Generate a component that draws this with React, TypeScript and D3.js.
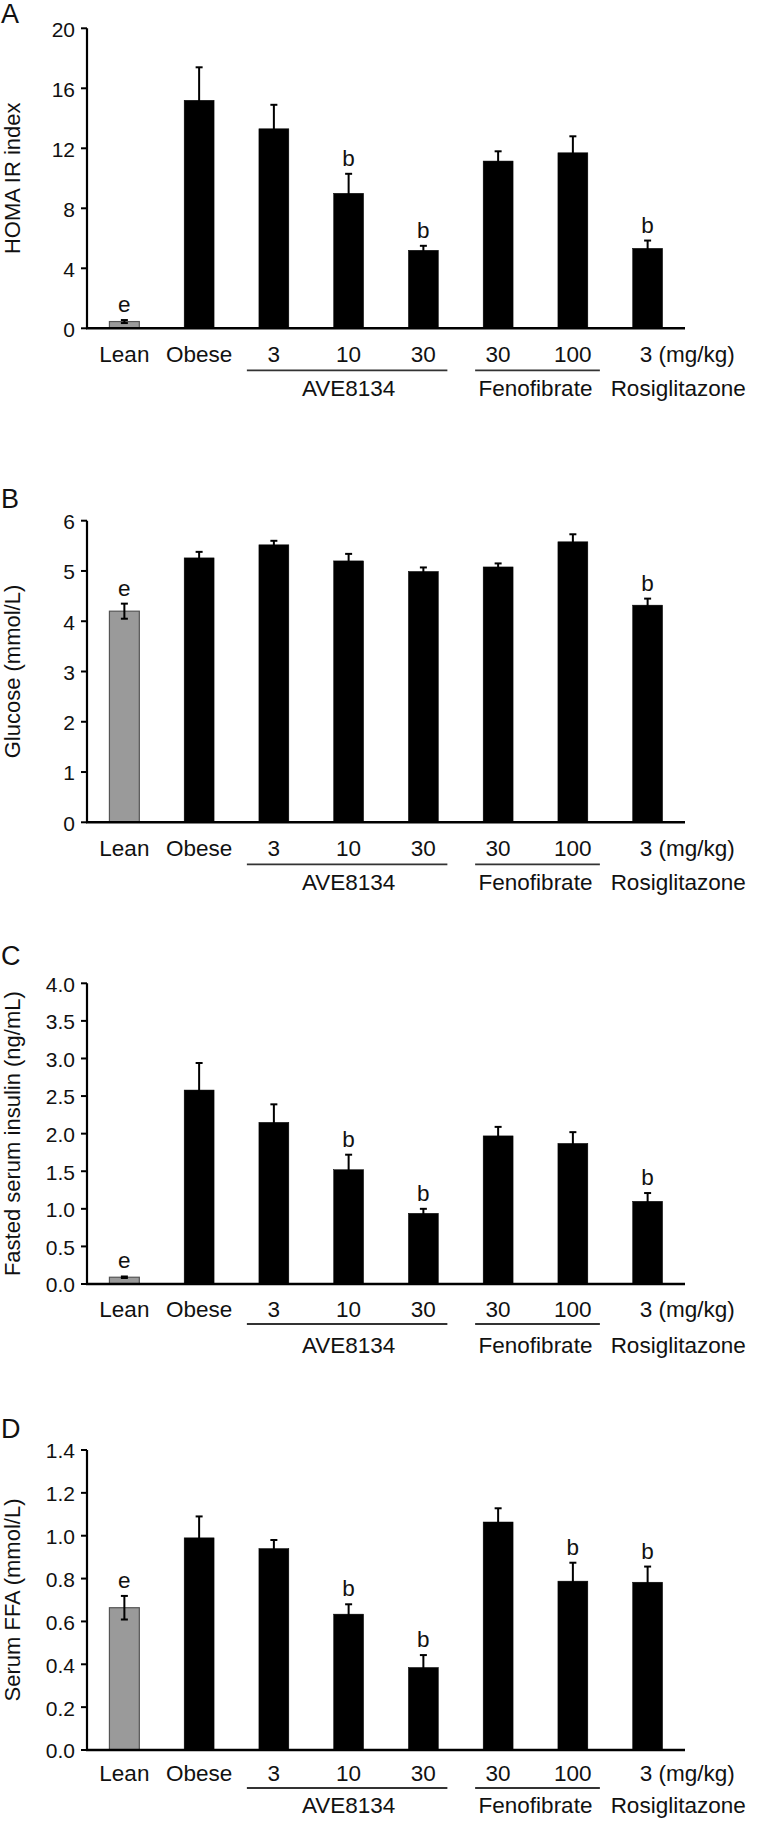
import React from "react";
import * as d3 from "d3";

// ---------- data ----------
const categories = ["Lean", "Obese", "3", "10", "30", "30", "100", "3"];
const groupNames = ["AVE8134", "Fenofibrate", "Rosiglitazone"];

const homaMean = [0.45, 15.2, 13.3, 9.0, 5.2, 11.15, 11.7, 5.33];
const homaErr = [0.1, 2.2, 1.6, 1.3, 0.3, 0.65, 1.1, 0.52];
const homaSig = ["e", "", "", "b", "b", "", "", "b"];
const homaTicks = [0, 4, 8, 12, 16, 20];

const glucoseMean = [4.2, 5.26, 5.52, 5.2, 4.99, 5.08, 5.58, 4.32];
const glucoseErr = [0.15, 0.12, 0.08, 0.14, 0.08, 0.07, 0.15, 0.13];
const glucoseSig = ["e", "", "", "", "", "", "", "b"];
const glucoseTicks = [0, 1, 2, 3, 4, 5, 6];

const insulinMean = [0.09, 2.58, 2.15, 1.52, 0.94, 1.97, 1.87, 1.1];
const insulinErr = [0.01, 0.36, 0.24, 0.2, 0.06, 0.12, 0.15, 0.11];
const insulinSig = ["e", "", "", "b", "b", "", "", "b"];
const insulinTicks = [0, 0.5, 1.0, 1.5, 2.0, 2.5, 3.0, 3.5, 4.0];

const ffaMean = [0.664, 0.99, 0.94, 0.634, 0.385, 1.064, 0.788, 0.783];
const ffaErr = [0.055, 0.1, 0.04, 0.046, 0.058, 0.064, 0.086, 0.073];
const ffaSig = ["e", "", "", "b", "b", "", "b", "b"];
const ffaTicks = [0, 0.2, 0.4, 0.6, 0.8, 1.0, 1.2, 1.4];

// ---------- layout ----------
const W = 757;
const H = 1821;
const AXIS_X0 = 87;
const AXIS_X1 = 685;
const FONT = "'Liberation Sans', Arial, Helvetica, sans-serif";
const INK = "#111";
const LABEL_SIZE = 22.5;

type PanelProps = {
  letter: string;
  title: string;
  mean: number[];
  err: number[];
  sig: string[];
  ticks: number[];
  fmt: (v: number) => string;
  top: number;
  bottom: number;
  letterY: number;
  offs: [number, number, number];
};

const idx = d3.range(categories.length);
const x = d3
  .scaleBand<number>()
  .domain(idx)
  .range([AXIS_X0, AXIS_X1])
  .paddingInner(0.6)
  .paddingOuter(0.3);
const cx = (i: number) => (x(i) as number) + x.bandwidth() / 2;

function Panel(p: PanelProps) {
  const yMax = p.ticks[p.ticks.length - 1];
  const y = d3.scaleLinear().domain([0, yMax]).range([p.bottom, p.top]);
  const cap = 3.5;
  const labY = p.bottom + p.offs[0];
  const lineY = p.bottom + p.offs[1];
  const grpY = p.bottom + p.offs[2];
  return (
    <g>
      <text x={1} y={p.letterY} fontSize={27} fontFamily={FONT} fill={INK}>
        {p.letter}
      </text>
      {/* y title */}
      <text
        transform={`translate(20,${(p.top + p.bottom) / 2}) rotate(-90)`}
        textAnchor="middle"
        fontSize={22}
        fontFamily={FONT}
        fill={INK}
      >
        {p.title}
      </text>
      {/* bars */}
      {idx.map((i) => (
        <rect
          key={"b" + i}
          x={x(i)}
          y={y(p.mean[i])}
          width={x.bandwidth()}
          height={p.bottom - y(p.mean[i])}
          fill={i === 0 ? "#9a9a9a" : "#000"}
          stroke={i === 0 ? "#555" : "#000"}
          strokeWidth={i === 0 ? 1.2 : 0.5}
        />
      ))}
      {/* error bars */}
      {idx.map((i) => {
        const hi = y(p.mean[i] + p.err[i]);
        const lo = y(Math.max(0, p.mean[i] - p.err[i]));
        const c = cx(i);
        return (
          <g key={"e" + i} stroke="#000" strokeWidth={2}>
            <line x1={c} x2={c} y1={hi} y2={lo} />
            <line x1={c - cap} x2={c + cap} y1={hi} y2={hi} />
            {i === 0 && <line x1={c - cap} x2={c + cap} y1={lo} y2={lo} />}
          </g>
        );
      })}
      {/* significance letters */}
      {idx.map((i) =>
        p.sig[i] ? (
          <text
            key={"s" + i}
            x={cx(i)}
            y={y(p.mean[i] + p.err[i]) - 8}
            textAnchor="middle"
            fontSize={LABEL_SIZE}
            fontFamily={FONT}
            fill={INK}
          >
            {p.sig[i]}
          </text>
        ) : null
      )}
      {/* y axis */}
      <line x1={AXIS_X0} x2={AXIS_X0} y1={y(yMax)} y2={p.bottom} stroke="#000" strokeWidth={2.2} />
      {p.ticks.map((t) => (
        <g key={"t" + t}>
          <line x1={AXIS_X0 - 6} x2={AXIS_X0} y1={y(t)} y2={y(t)} stroke="#000" strokeWidth={2} />
          <text
            x={75}
            y={y(t)}
            dy="0.4em"
            textAnchor="end"
            fontSize={21}
            fontFamily={FONT}
            fill={INK}
          >
            {p.fmt(t)}
          </text>
        </g>
      ))}
      {/* x axis */}
      <line x1={AXIS_X0 - 1} x2={AXIS_X1} y1={p.bottom} y2={p.bottom} stroke="#000" strokeWidth={2.4} />
      {/* category labels */}
      {idx.map((i) =>
        i < categories.length - 1 ? (
          <text
            key={"c" + i}
            x={cx(i)}
            y={labY}
            textAnchor="middle"
            fontSize={LABEL_SIZE}
            fontFamily={FONT}
            fill={INK}
          >
            {categories[i]}
          </text>
        ) : (
          <text key={"c" + i} x={cx(i) - 8} y={labY} fontSize={LABEL_SIZE} fontFamily={FONT} fill={INK}>
            {categories[i] + " (mg/kg)"}
          </text>
        )
      )}
      {/* group underlines */}
      <line x1={cx(2) - 27} x2={cx(4) + 24} y1={lineY} y2={lineY} stroke="#333" strokeWidth={1.8} />
      <line x1={cx(5) - 23} x2={cx(6) + 27} y1={lineY} y2={lineY} stroke="#333" strokeWidth={1.8} />
      <text x={cx(3)} y={grpY} textAnchor="middle" fontSize={LABEL_SIZE} fontFamily={FONT} fill={INK}>
        {groupNames[0]}
      </text>
      <text
        x={(cx(5) + cx(6)) / 2}
        y={grpY}
        textAnchor="middle"
        fontSize={LABEL_SIZE}
        fontFamily={FONT}
        fill={INK}
      >
        {groupNames[1]}
      </text>
      <text x={cx(7) - 37} y={grpY} fontSize={LABEL_SIZE} fontFamily={FONT} fill={INK}>
        {groupNames[2]}
      </text>
    </g>
  );
}

const fmtInt = d3.format("d");
const fmt1 = d3.format(".1f");

export default function App() {
  React.useEffect(() => {
    document.body.style.margin = "0";
  }, []);
  return (
    <svg
      width={W}
      height={H}
      viewBox={`0 0 ${W} ${H}`}
      style={{ position: "absolute", left: 0, top: 0, background: "#fff" }}
    >
      <rect width={W} height={H} fill="#fff" />
      <Panel
        letter="A"
        title="HOMA IR index"
        mean={homaMean}
        err={homaErr}
        sig={homaSig}
        ticks={homaTicks}
        fmt={fmtInt}
        top={28.3}
        bottom={328.3}
        letterY={23}
        offs={[34, 42, 68]}
      />
      <Panel
        letter="B"
        title="Glucose (mmol/L)"
        mean={glucoseMean}
        err={glucoseErr}
        sig={glucoseSig}
        ticks={glucoseTicks}
        fmt={fmtInt}
        top={520.7}
        bottom={822.3}
        letterY={508}
        offs={[34, 42, 68]}
      />
      <Panel
        letter="C"
        title="Fasted serum insulin (ng/mL)"
        mean={insulinMean}
        err={insulinErr}
        sig={insulinSig}
        ticks={insulinTicks}
        fmt={fmt1}
        top={983.3}
        bottom={1284}
        letterY={965}
        offs={[33, 40, 69]}
      />
      <Panel
        letter="D"
        title="Serum FFA (mmol/L)"
        mean={ffaMean}
        err={ffaErr}
        sig={ffaSig}
        ticks={ffaTicks}
        fmt={fmt1}
        top={1450}
        bottom={1750}
        letterY={1438}
        offs={[31, 38, 63]}
      />
    </svg>
  );
}
